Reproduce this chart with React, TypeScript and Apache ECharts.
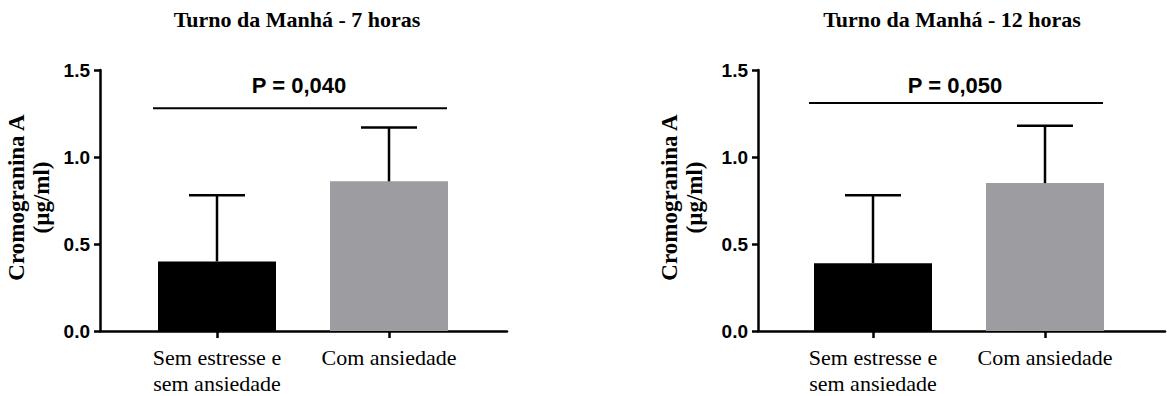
import React, { useEffect, useRef } from "react";
import * as echarts from "echarts";

const categories = ["Sem estresse e\nsem ansiedade", "Com ansiedade"];
const panelTitles = ["Turno da Manhá - 7 horas", "Turno da Manhá - 12 horas"];
const means7h = [0.4, 0.86];
const upper7h = [0.78, 1.17];
const means12h = [0.39, 0.85];
const upper12h = [0.78, 1.18];
const pLabels = ["P = 0,040", "P = 0,050"];
const sigLevels = [1.28, 1.31];
const pLabelLevel = 1.41;
const yMin = 0;
const yMax = 1.5;
const yStep = 0.5;
const yName = "Cromogranina A\n(µg/ml)";

const barColors = ["#000000", "#9d9da1"];
const SERIF = "'Liberation Serif', 'Times New Roman', serif";
const SANS = "'Liberation Sans', Arial, Helvetica, sans-serif";

export default function App() {
  const ref = useRef<HTMLDivElement>(null);
  useEffect(() => {
    if (!ref.current) return;
    const chart = echarts.init(ref.current, null, { renderer: "svg" });

    const panels = [
      { means: means7h, upper: upper7h, axisLeft: 100, barLeft: 131, titleX: 292, nameGap: 46 },
      { means: means12h, upper: upper12h, axisLeft: 758, barLeft: 787, titleX: 947, nameGap: 51 },
    ];
    const frameWidth = 407;
    const barGridWidth = 344;
    const top = 70;
    const height = 261;

    const grids: any[] = [];
    const xAxes: any[] = [];
    const yAxes: any[] = [];
    const series: any[] = [];
    const titles: any[] = [];

    panels.forEach((p, i) => {
      const gFrame = i * 2;
      const gBars = i * 2 + 1;
      grids.push({ left: p.axisLeft, top, width: frameWidth, height });
      grids.push({ left: p.barLeft, top, width: barGridWidth, height });

      titles.push({
        text: panelTitles[i],
        left: p.titleX,
        top: 3,
        textAlign: "center",
        textStyle: { fontFamily: SERIF, fontWeight: "bold", fontSize: 22, color: "#000" },
      });

      xAxes.push({
        gridIndex: gFrame,
        type: "value",
        min: 0,
        max: 1,
        axisLine: { show: true, lineStyle: { color: "#000", width: 2.5 } },
        axisTick: { show: false },
        axisLabel: { show: false },
        splitLine: { show: false },
      });
      xAxes.push({
        gridIndex: gBars,
        type: "category",
        data: categories,
        boundaryGap: true,
        axisLine: { show: false },
        axisTick: {
          show: true,
          alignWithLabel: true,
          interval: 0,
          length: 7,
          lineStyle: { color: "#000", width: 2.5 },
        },
        axisLabel: {
          interval: 0,
          margin: 13,
          fontFamily: SERIF,
          fontSize: 22,
          lineHeight: 26,
          color: "#000",
        },
        splitLine: { show: false },
      });

      yAxes.push({
        gridIndex: gFrame,
        type: "value",
        min: yMin,
        max: yMax,
        interval: yStep,
        name: yName,
        nameLocation: "middle",
        nameRotate: 90,
        nameGap: p.nameGap,
        nameTextStyle: {
          fontFamily: SERIF,
          fontWeight: "bold",
          fontSize: 23,
          lineHeight: 25,
          color: "#000",
          padding: [0, 0, 0, 6],
        },
        axisLine: { show: true, lineStyle: { color: "#000", width: 2.5 } },
        axisTick: { show: true, length: 6, lineStyle: { color: "#000", width: 2.5 } },
        axisLabel: {
          margin: 10,
          fontFamily: SANS,
          fontWeight: "bold",
          fontSize: 19,
          color: "#000",
          formatter: (v: number) => v.toFixed(1),
        },
        splitLine: { show: false },
      });
      yAxes.push({
        gridIndex: gBars,
        type: "value",
        min: yMin,
        max: yMax,
        show: false,
        splitLine: { show: false },
      });

      series.push({
        type: "bar",
        xAxisIndex: gBars,
        yAxisIndex: gBars,
        barWidth: 118,
        data: p.means.map((v, k) => ({ value: v, itemStyle: { color: barColors[k] } })),
        z: 2,
      });

      series.push({
        type: "custom",
        xAxisIndex: gBars,
        yAxisIndex: gBars,
        z: 3,
        data: p.means.map((m, k) => [k, m, p.upper[k]]),
        renderItem: (params: any, api: any) => {
          const base = api.coord([api.value(0), api.value(1)]);
          const up = api.coord([api.value(0), api.value(2)]);
          const half = 28;
          const style = { stroke: "#000", lineWidth: 2.5 };
          return {
            type: "group",
            children: [
              { type: "line", shape: { x1: base[0], y1: base[1], x2: up[0], y2: up[1] }, style },
              { type: "line", shape: { x1: up[0] - half, y1: up[1], x2: up[0] + half, y2: up[1] }, style },
            ],
          };
        },
      });

      series.push({
        type: "custom",
        xAxisIndex: gBars,
        yAxisIndex: gBars,
        z: 3,
        data: [[sigLevels[i], pLabelLevel]],
        renderItem: (params: any, api: any) => {
          const a = api.coord([0, api.value(0)]);
          const b = api.coord([categories.length - 1, api.value(0)]);
          const t = api.coord([0, api.value(1)]);
          const mid = (a[0] + b[0]) / 2;
          return {
            type: "group",
            children: [
              {
                type: "line",
                shape: { x1: a[0] - 64, y1: a[1], x2: b[0] + 58, y2: b[1] },
                style: { stroke: "#000", lineWidth: 2 },
              },
              {
                type: "text",
                x: mid - 4,
                y: t[1],
                style: {
                  text: pLabels[i],
                  fontFamily: SANS,
                  fontWeight: "bold",
                  fontSize: 22,
                  fill: "#000",
                  align: "center",
                  verticalAlign: "middle",
                },
              },
            ],
          };
        },
      });
    });

    chart.setOption({
      animation: false,
      backgroundColor: "#ffffff",
      title: titles,
      grid: grids,
      xAxis: xAxes,
      yAxis: yAxes,
      series,
    });
    return () => chart.dispose();
  }, []);

  return (
    <div
      ref={ref}
      style={{ position: "fixed", left: 0, top: 0, width: 1167, height: 396 }}
    />
  );
}
